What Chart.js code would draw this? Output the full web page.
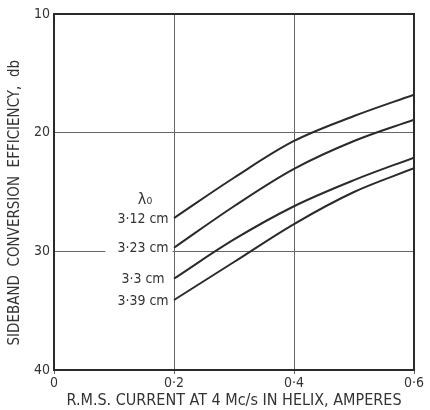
<!DOCTYPE html>
<html>
<head>
<meta charset="utf-8">
<script src="https://cdn.jsdelivr.net/npm/chart.js@4/dist/chart.umd.min.js"></script>
<style>
  body { margin: 0; background: #fff; }
  #wrap { width: 430px; height: 410px; }
</style>
</head>
<body>
<div id="wrap"><canvas id="myChart"></canvas></div>
<script>
const current = [0.2, 0.3, 0.4, 0.5, 0.6];
const wavelengths = ["3·12 cm", "3·23 cm", "3·3 cm", "3·39 cm"];
const eff312 = [27.2, 23.8, 20.7, 18.6, 16.8];
const eff323 = [29.7, 26.2, 23.05, 20.7, 18.9];
const eff33 = [32.3, 29.0, 26.2, 24.0, 22.1];
const eff339 = [34.1, 30.9, 27.7, 25.0, 23.0];
const xTicks = [0, 0.2, 0.4, 0.6];
const yTicks = [10, 20, 30, 40];

const FONT = "'DejaVu Sans Condensed', 'DejaVu Sans', sans-serif";
const INK = "#2a2a2a";

const series = [eff312, eff323, eff33, eff339];

function toPoints(vals) {
  return vals.map((v, i) => ({ x: current[i], y: v }));
}

// thick frame round the plot area
const framePlugin = {
  id: "frame",
  afterDatasetsDraw(chart) {
    const { ctx, chartArea: a } = chart;
    ctx.save();
    ctx.strokeStyle = INK;
    ctx.lineWidth = 2;
    ctx.strokeRect(a.left, a.top, a.right - a.left, a.bottom - a.top);
    ctx.restore();
  },
};

// wavelength labels to the left of each curve start
const labelPlugin = {
  id: "curveLabels",
  afterDatasetsDraw(chart) {
    const { ctx } = chart;
    const xs = chart.scales.x;
    const ys = chart.scales.y;
    const cx = xs.getPixelForValue(current[0]) - 31;
    ctx.save();
    ctx.textAlign = "center";
    ctx.textBaseline = "middle";
    ctx.font = "14px " + FONT;
    series.forEach((s, i) => {
      const y = ys.getPixelForValue(s[0]) + 1;
      const w = ctx.measureText(wavelengths[i]).width;
      ctx.fillStyle = "#fff";
      ctx.fillRect(cx - w / 2 - 12, y - 6, w + 16, 12);
      ctx.fillStyle = "#333";
      ctx.fillText(wavelengths[i], cx, y);
    });
    ctx.font = "16px " + FONT;
    ctx.fillText("λ₀", cx + 2, ys.getPixelForValue(eff312[0]) - 18);
    ctx.restore();
  },
};

new Chart(document.getElementById("myChart").getContext("2d"), {
  type: "line",
  data: {
    datasets: series.map((s, i) => ({
      label: wavelengths[i],
      data: toPoints(s),
      borderColor: INK,
      borderWidth: 2,
      pointRadius: 0,
      tension: 0.35,
      fill: false,
    })),
  },
  options: {
    responsive: true,
    maintainAspectRatio: false,
    animation: false,
    layout: { padding: { top: 14, right: 16, left: 0, bottom: 0 } },
    plugins: { legend: { display: false }, tooltip: { enabled: false } },
    scales: {
      x: {
        type: "linear",
        min: 0,
        max: 0.6,
        afterBuildTicks: (s) => { s.ticks = xTicks.map((v) => ({ value: v })); },
        afterFit: (s) => { s.height = 40; },
        grid: { color: "#666", lineWidth: 1, tickLength: 4, drawTicks: true },
        border: { color: INK, width: 2 },
        ticks: {
          color: "#333",
          font: { family: FONT, size: 14 },
          padding: 1,
          maxRotation: 0,
          autoSkip: false,
          callback: (v) => (v === 0 ? "0" : Number(v).toFixed(1).replace(".", "·")),
        },
        title: {
          display: true,
          text: "R.M.S. CURRENT AT 4 Mc/s IN HELIX, AMPERES",
          color: "#333",
          font: { family: FONT, size: 16 },
          padding: { top: 0, bottom: 0 },
        },
      },
      y: {
        type: "linear",
        reverse: true,
        min: 10,
        max: 40,
        afterBuildTicks: (s) => { s.ticks = yTicks.map((v) => ({ value: v })); },
        afterFit: (s) => { s.width = 54; },
        grid: { color: "#666", lineWidth: 1, drawTicks: false },
        border: { color: INK, width: 2 },
        ticks: {
          color: "#333",
          font: { family: FONT, size: 14 },
          padding: 4,
        },
        title: {
          display: true,
          text: "SIDEBAND  CONVERSION  EFFICIENCY,  db     ",
          color: "#333",
          font: { family: FONT, size: 15 },
          padding: { top: 6, bottom: 0 },
        },
      },
    },
  },
  plugins: [framePlugin, labelPlugin],
});
</script>
</body>
</html>
